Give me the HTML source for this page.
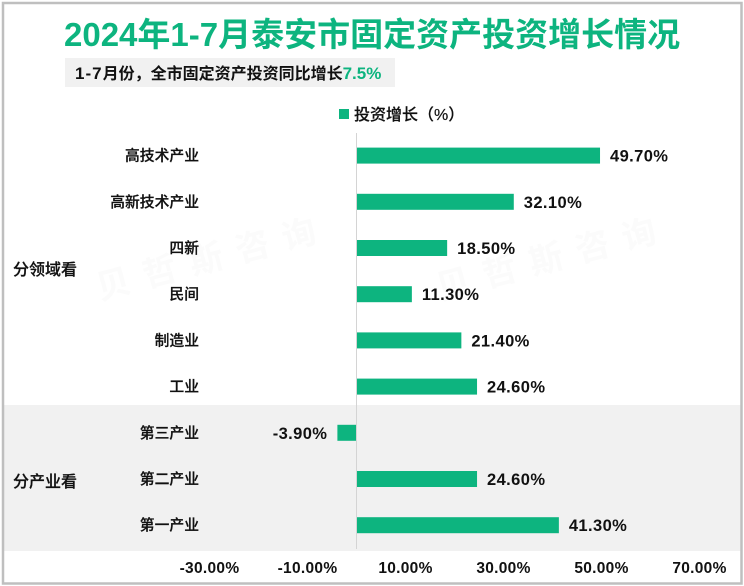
<!DOCTYPE html>
<html lang="zh">
<head>
<meta charset="utf-8">
<title>2024年1-7月泰安市固定资产投资增长情况</title>
<style>
html,body{margin:0;padding:0;background:#fff;}
#chart{display:block;width:744px;height:586px;font-family:"Liberation Sans","Noto Sans CJK SC",sans-serif;}
</style>
</head>
<body>
<svg id="chart" xmlns="http://www.w3.org/2000/svg" width="744" height="586" viewBox="0 0 744 586">
  <rect x="0" y="0" width="744" height="586" fill="#fff"/>
  <rect x="3" y="405" width="738" height="146" fill="#f1f1f1"/>
  <g fill="#fbfbfb" font-size="34" font-weight="700" letter-spacing="14">
    <text transform="translate(100 300) rotate(-15)">贝哲斯咨询</text>
    <text transform="translate(440 300) rotate(-15)">贝哲斯咨询</text>
  </g>
  <text x="64" y="46" font-size="33" font-weight="700" fill="#0db47f">2024年1-7月泰安市固定资产投资增长情况</text>
  <rect x="65" y="58" width="330" height="29" fill="#f1f1f1"/>
  <text x="75" y="79" font-size="16" font-weight="700" fill="#111"><tspan font-size="17" letter-spacing="1">1-7</tspan>月份，全市固定资产投资同比增长<tspan font-size="17" fill="#0db47f">7.5%</tspan></text>
  <rect x="339" y="109" width="10" height="10" fill="#0db47f"/>
  <text x="354" y="120" font-size="16" font-weight="500" fill="#111" stroke="#111" stroke-width="0.2">投资增长（%）</text>
  <text x="13" y="275" font-size="16" font-weight="500" fill="#111" stroke="#111" stroke-width="0.25">分领域看</text>
  <text x="13" y="487" font-size="16" font-weight="500" fill="#111" stroke="#111" stroke-width="0.25">分产业看</text>
  <g id="plot"></g>
  <rect x="3" y="3" width="738.5" height="580.5" fill="none" stroke="#bfbfbf" stroke-width="2.5"/>
</svg>
<script>
const categories = ["高技术产业","高新技术产业","四新","民间","制造业","工业","第三产业","第二产业","第一产业"];
const growthValues = [49.7,32.1,18.5,11.3,21.4,24.6,-3.9,24.6,41.3];
const axisTicks = [-30,-10,10,30,50,70];

const NS = "http://www.w3.org/2000/svg";
const plot = document.getElementById("plot");
const xZero = 356.5, xPerUnit = 4.9;
const bandTop = 132.5, bandStep = 46.2, barHeight = 16;
const colour = "#0db47f";
const x = v => xZero + v * xPerUnit;
const y = i => bandTop + bandStep * (i + 0.5);
const fmt = v => v.toFixed(2) + "%";

function make(tag, attrs, text) {
  const el = document.createElementNS(NS, tag);
  for (const k in attrs) el.setAttribute(k, attrs[k]);
  if (text !== undefined) el.textContent = text;
  return el;
}

const axisLine = make("line", {x1: xZero, x2: xZero, y1: 133, y2: 549, stroke: "#d4d4d4", "stroke-width": 1});


plot.appendChild(axisLine);

categories.forEach((name, i) => {
  const v = growthValues[i];
  const cy = y(i);

  const label = make("text", {x: 199, y: cy + 5, "text-anchor": "end", "font-size": 14.8, "font-weight": 500, fill: "#111", stroke: "#111", "stroke-width": 0.25}, name);
  
  
  plot.appendChild(label);

  const bar = make("rect", {x: Math.min(x(0), x(v)) + (v < 0 ? 0 : 0.5), y: cy - barHeight / 2, width: Math.abs(x(v) - x(0)) - 0.5, height: barHeight, fill: colour});
  
  
  plot.appendChild(bar);

  const value = make("text", {x: v < 0 ? x(v) - 10 : x(v) + 10, y: cy + 6, "text-anchor": v < 0 ? "end" : "start", "font-size": 16.5, "letter-spacing": 0.4, "font-weight": 700, fill: "#111"}, fmt(v));
  
  
  plot.appendChild(value);
});

axisTicks.forEach(t => {
  const tick = make("text", {x: x(t), y: 573, "text-anchor": "middle", "font-size": 15.5, "letter-spacing": 0.3, "font-weight": 700, fill: "#111"}, fmt(t));
  
  
  plot.appendChild(tick);
});
</script>
</body>
</html>
